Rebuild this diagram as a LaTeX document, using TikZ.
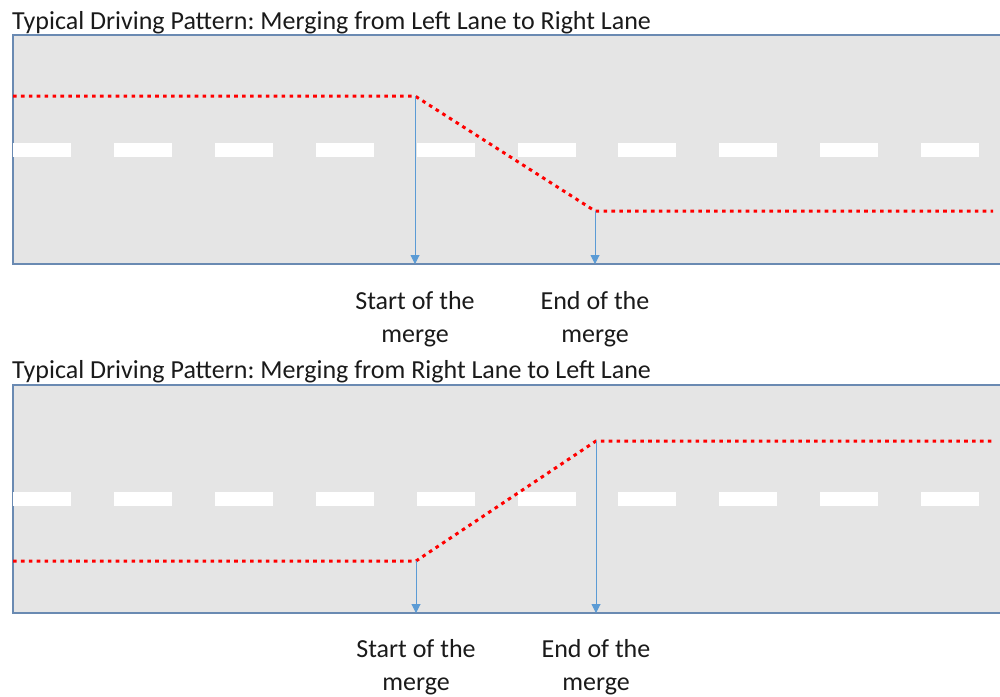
\documentclass[tikz,border=0pt]{standalone}
\usepackage{fontspec}
\setmainfont{Carlito}
\frenchspacing
\usetikzlibrary{arrows.meta}
\definecolor{roadgray}{HTML}{E5E5E5}
\definecolor{roadborder}{HTML}{6A8AB2}
\definecolor{arrowblue}{HTML}{5B9BD5}
\definecolor{txt}{HTML}{1A1A1A}
\tikzset{
  roadfill/.style={fill=roadgray,draw=none},
  roadedge/.style={draw=roadborder,line width=1.5pt},
  lanedash/.style={fill=white,draw=none},
  pathdots/.style={draw=red,line width=3pt,dash pattern=on 3.6pt off 4.3pt},
  markarrow/.style={draw=arrowblue,line width=1pt,-{Triangle[width=9pt,length=9pt]}},
  titletext/.style={anchor=base west,inner sep=0pt,text=txt,font=\fontsize{26}{30}\selectfont},
  labeltext/.style={align=center,inner sep=0pt,text=txt,font=\fontsize{26}{33}\selectfont},
}
\begin{document}
\begin{tikzpicture}[x=1pt,y=-1pt]
\useasboundingbox (0,0) rectangle (1000,696);
% ---------- Panel 1 ----------
\node[titletext] (t1) at (12,29) {Typical Driving Pattern: Merging from Left Lane to Right Lane};
\fill[roadfill] (13,35) rectangle (1001,264);
\draw[roadedge] (1001,35) -- (13,35) -- (13,264) -- (1001,264);
\foreach \k in {0,...,9} {
  \fill[lanedash] ({13+\k*100.9},143) rectangle ({71+\k*100.9},157);
}
\coordinate (a1) at (13,96);
\coordinate (s1) at (415,96);
\coordinate (e1) at (595,211);
\coordinate (z1) at (993,211);
\coordinate (sb1) at (415,264);
\coordinate (eb1) at (595,264);
\draw[pathdots] (a1) -- (s1) -- (e1) -- (z1);
\draw[markarrow] (s1) -- (sb1);
\draw[markarrow] (e1) -- (eb1);
\node[labeltext,anchor=base] (l1) at (415,342) {Start of the\\merge};
\node[labeltext,anchor=base] (m1) at (595,342) {End of the\\merge};
% ---------- Panel 2 ----------
\node[titletext] (t2) at (12,378) {Typical Driving Pattern: Merging from Right Lane to Left Lane};
\fill[roadfill] (13,385) rectangle (1001,613);
\draw[roadedge] (1001,385) -- (13,385) -- (13,613) -- (1001,613);
\foreach \k in {0,...,9} {
  \fill[lanedash] ({13+\k*100.9},492) rectangle ({71+\k*100.9},506);
}
\coordinate (a2) at (13,561);
\coordinate (s2) at (416,561);
\coordinate (e2) at (596,441);
\coordinate (z2) at (993,441);
\coordinate (sb2) at (416,613);
\coordinate (eb2) at (596,613);
\draw[pathdots] (a2) -- (s2) -- (e2) -- (z2);
\draw[markarrow] (s2) -- (sb2);
\draw[markarrow] (e2) -- (eb2);
\node[labeltext,anchor=base] (l2) at (416,690) {Start of the\\merge};
\node[labeltext,anchor=base] (m2) at (596,690) {End of the\\merge};
\end{tikzpicture}
\end{document}
